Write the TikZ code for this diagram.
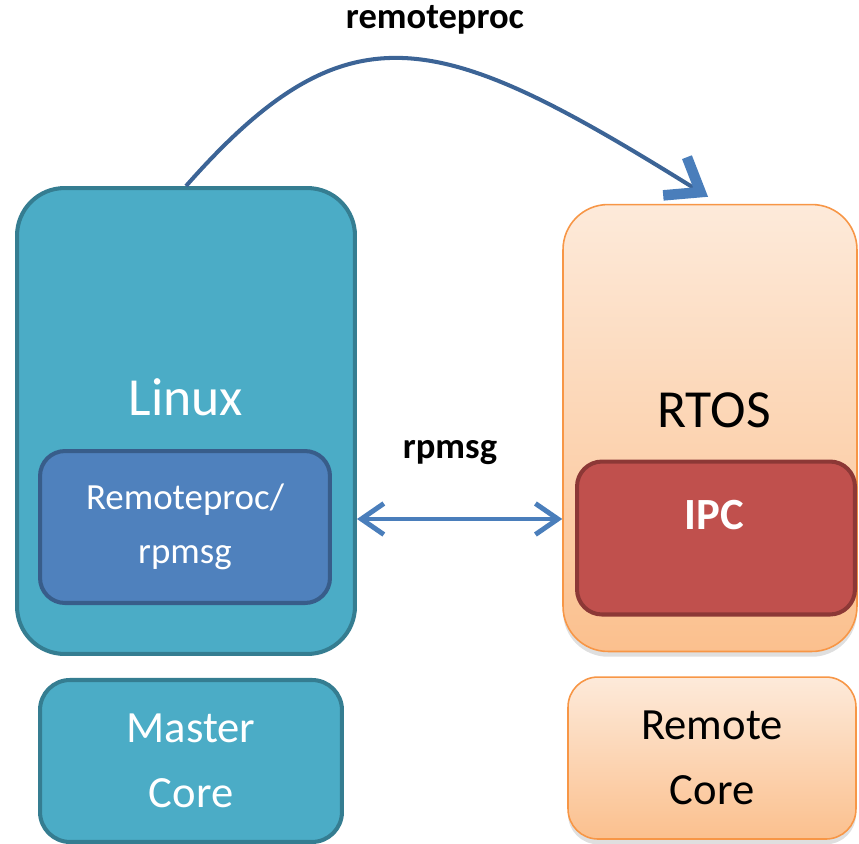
\documentclass[tikz,border=0pt]{standalone}
\usepackage{fontspec}
\setmainfont{Carlito}
\usetikzlibrary{arrows.meta,positioning,calc,shadows}
\definecolor{linuxfill}{HTML}{4BACC6}
\definecolor{linuxedge}{HTML}{357D91}
\definecolor{rprocfill}{HTML}{4F81BD}
\definecolor{rprocedge}{HTML}{385D8A}
\definecolor{rtostop}{HTML}{FDEADA}
\definecolor{rtosbot}{HTML}{FBC08E}
\definecolor{rtosedge}{HTML}{F79646}
\definecolor{ipcfill}{HTML}{C0504D}
\definecolor{ipcedge}{HTML}{8C3836}
\definecolor{arrowblue}{HTML}{4A7EBB}
\definecolor{curveblue}{HTML}{3C6496}
\newcommand{\osfont}{\fontsize{30.5}{36}\selectfont}
\newcommand{\subfont}{\fontsize{21}{30.7}\selectfont}
\newcommand{\corefont}{\fontsize{25.4}{37}\selectfont}
\newcommand{\linkfont}{\fontsize{20.8}{25}\selectfont\bfseries}

\begin{document}
\begin{tikzpicture}[x=0.02cm, y=-0.02cm,
	box/.style={rectangle, inner sep=0pt, align=center},
	linuxbox/.style={box, fill=linuxfill, draw=linuxedge, line width=2.3pt, rounded corners=0.95cm, text=white},
	rtosbox/.style={box, top color=rtostop, bottom color=rtosbot, draw=rtosedge, line width=0.9pt, rounded corners=0.9cm,
		drop shadow={opacity=0.25, shadow xshift=0pt, shadow yshift=-3pt}},
	rprocbox/.style={box, fill=rprocfill, draw=rprocedge, line width=2.3pt, rounded corners=0.5cm, text=white},
	ipcbox/.style={box, fill=ipcfill, draw=ipcedge, line width=2.3pt, rounded corners=0.5cm},
	link/.style={draw=arrowblue, line width=2.8pt},
	boot/.style={draw=curveblue, line width=2.3pt}]
	\useasboundingbox (0,0) rectangle (859,843);
	% master side
	\node[linuxbox, minimum width=6.76cm, minimum height=9.32cm] (linux) at (186,421) {};
	\node[text=white, font=\osfont] (linuxname) at (186,397) {Linux};
	\node[rprocbox, minimum width=5.8cm, minimum height=3.04cm, font=\subfont] (rproc) at (185,527) {Remoteproc/\\rpmsg};
	\node[linuxbox, rounded corners=0.6cm, minimum width=6.04cm, minimum height=3.24cm, font=\corefont,
		below=0.44cm of linux, xshift=0.1cm] (master) {Master\\Core};
	% remote side
	\node[rtosbox, minimum width=5.88cm, minimum height=8.94cm] (rtos) at (710,428) {};
	\node[font=\osfont] (rtosname) at (714,410) {RTOS};
	\node[ipcbox, minimum width=5.56cm, minimum height=3.06cm] (ipc) at (716,538) {};
	\node[text=white, font=\corefont\bfseries] (ipcname) at (714,515) {IPC};
	\node[rtosbox, rounded corners=0.6cm, minimum width=5.76cm, minimum height=3.24cm, font=\corefont,
		below=0.48cm of rtos, xshift=0.04cm] (remote) {Remote\\Core};
	% links
	\coordinate (level) at (0,519);
	\draw[link, {Straight Barb[length=0.45cm,width=0.62cm]}-{Straight Barb[length=0.45cm,width=0.62cm]}]
		(linux.east |- level) -- (rtos.west |- level);
	\node[font=\linkfont] (rpmsg) at (450,453) {rpmsg};
	\draw[boot, -{Straight Barb[length=0.6cm,width=0.9cm,color=arrowblue,line width=6pt]}]
		(linux.north) .. controls (350,0) and (440,30) .. ($(rtos.north)+(-2,-7)$);
	\node[font=\linkfont] (remoteproc) at (435,20) {remoteproc};
\end{tikzpicture}
\end{document}
